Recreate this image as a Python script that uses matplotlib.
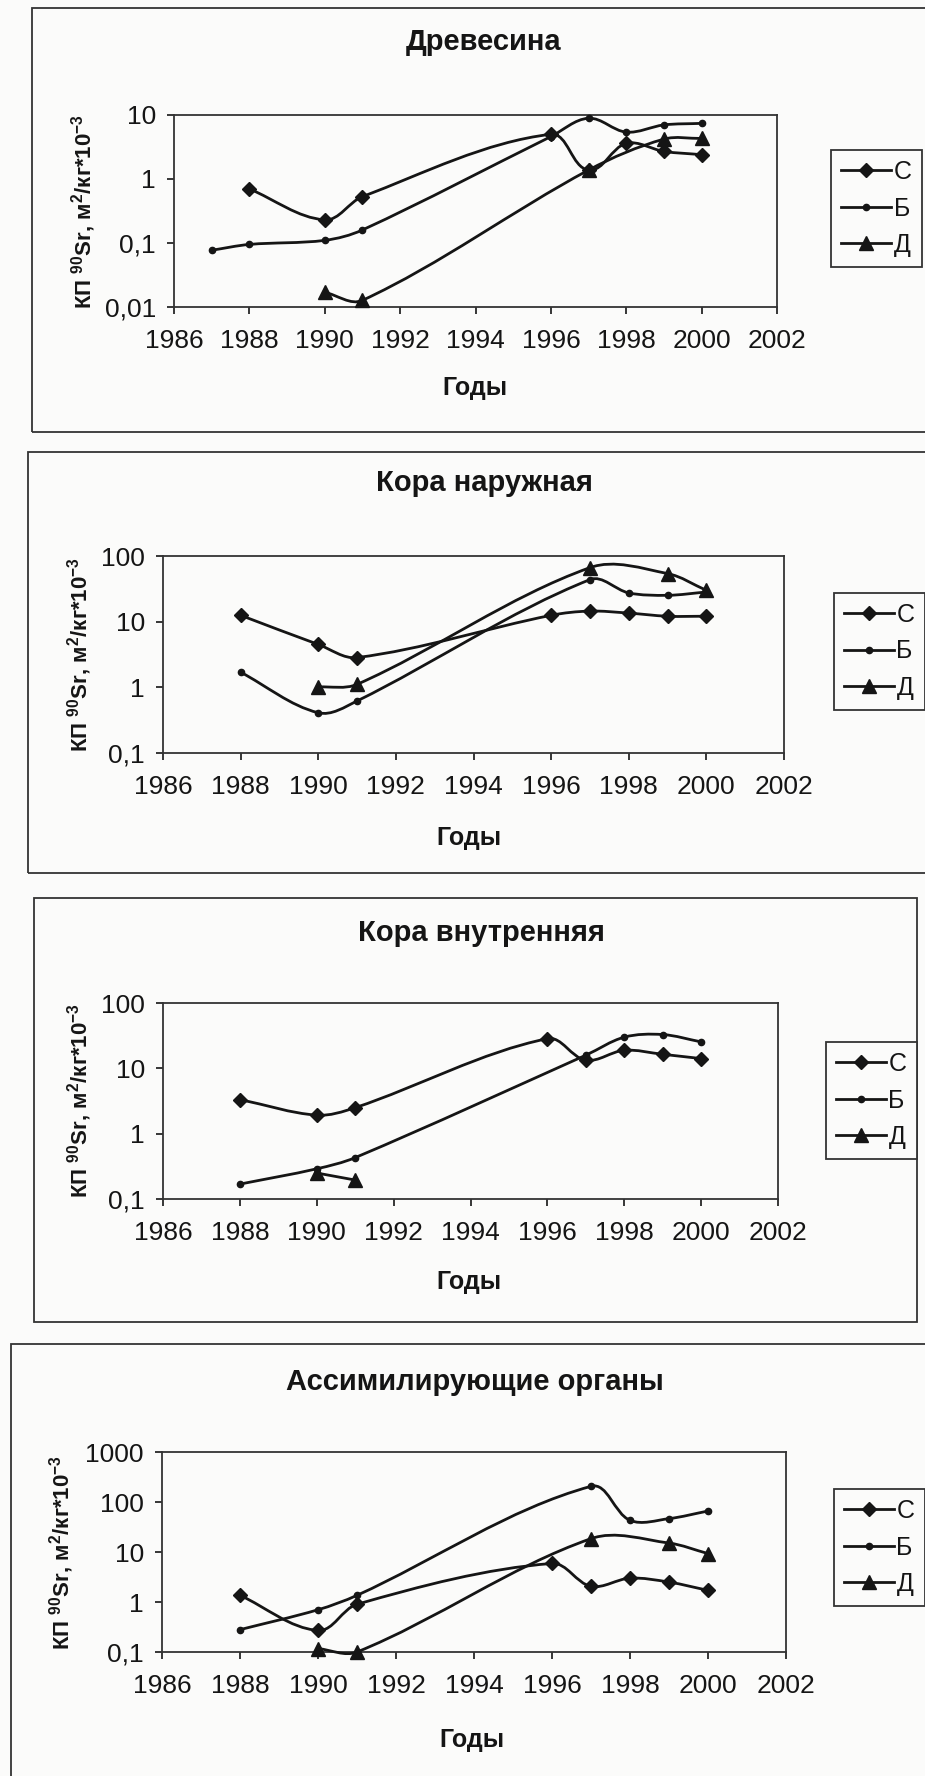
import numpy as np
import matplotlib
matplotlib.use('Agg')
import matplotlib.pyplot as plt
from matplotlib.path import Path
from matplotlib.patches import PathPatch, Rectangle
from matplotlib.lines import Line2D

plt.rcParams['font.family'] = ['Liberation Sans', 'DejaVu Sans']
plt.rcParams['mathtext.fontset'] = 'custom'
plt.rcParams['mathtext.rm'] = 'Liberation Sans:bold'
plt.rcParams['mathtext.bf'] = 'Liberation Sans:bold'
plt.rcParams['mathtext.default'] = 'bf'

# --- данные ---
titles = ['Древесина', 'Кора наружная', 'Кора внутренняя', 'Ассимилирующие органы']
legend_labels = ['С', 'Б', 'Д']
x_ticks = [1986, 1988, 1990, 1992, 1994, 1996, 1998, 2000, 2002]

# Древесина
wood_c_years = [1988, 1990, 1991, 1996, 1997, 1998, 1999, 2000]
wood_c = [0.70, 0.23, 0.53, 5.0, 1.38, 3.6, 2.7, 2.4]
wood_b_years = [1987, 1988, 1990, 1991, 1996, 1997, 1998, 1999, 2000]
wood_b = [0.077, 0.095, 0.11, 0.16, 4.6, 8.9, 5.4, 7.0, 7.4]
wood_d_years = [1990, 1991, 1997, 1999, 2000]
wood_d = [0.017, 0.0127, 1.38, 4.2, 4.3]

# Кора наружная
outer_c_years = [1988, 1990, 1991, 1996, 1997, 1998, 1999, 2000]
outer_c = [12.5, 4.5, 2.84, 12.5, 14.5, 13.5, 12.1, 12.1]
outer_b_years = [1988, 1990, 1991, 1997, 1998, 1999, 2000]
outer_b = [1.7, 0.41, 0.62, 43.7, 27.4, 25.2, 28.3]
outer_d_years = [1990, 1991, 1997, 1999, 2000]
outer_d = [1.01, 1.11, 66.5, 54, 30]

# Кора внутренняя
inner_c_years = [1988, 1990, 1991, 1996, 1997, 1998, 1999, 2000]
inner_c = [3.33, 1.92, 2.5, 28.5, 13.3, 18.9, 16.4, 14.1]
inner_b_years = [1988, 1990, 1991, 1997, 1998, 1999, 2000]
inner_b = [0.169, 0.29, 0.43, 15.9, 30, 32.9, 25.4]
inner_d_years = [1990, 1991]
inner_d = [0.25, 0.195]

# Ассимилирующие органы
leaf_c_years = [1988, 1990, 1991, 1996, 1997, 1998, 1999, 2000]
leaf_c = [1.36, 0.27, 0.9, 5.9, 2.06, 3.0, 2.5, 1.71]
leaf_b_years = [1988, 1990, 1991, 1997, 1998, 1999, 2000]
leaf_b = [0.28, 0.70, 1.36, 206, 43, 46.5, 66]
leaf_d_years = [1990, 1991, 1997, 1999, 2000]
leaf_d = [0.117, 0.1, 18.5, 15.1, 9.3]

y_ticks_wood = [0.01, 0.1, 1, 10]
y_ticks_bark = [0.1, 1, 10, 100]
y_ticks_leaf = [0.1, 1, 10, 100, 1000]

series = [
    [(wood_c_years, wood_c), (wood_b_years, wood_b), (wood_d_years, wood_d)],
    [(outer_c_years, outer_c), (outer_b_years, outer_b), (outer_d_years, outer_d)],
    [(inner_c_years, inner_c), (inner_b_years, inner_b), (inner_d_years, inner_d)],
    [(leaf_c_years, leaf_c), (leaf_b_years, leaf_b), (leaf_d_years, leaf_d)],
]
y_ticks = [y_ticks_wood, y_ticks_bark, y_ticks_bark, y_ticks_leaf]

# --- разметка в пикселях (925 x 1776) ---
W, H = 925, 1776
layout = [
    # оси (л, п, верх, низ), рамка (л, п, верх, низ), заголовок, "Годы", подпись y, легенда (л, верх)
    dict(ax=(174, 777, 115, 307), frame=(32, 990, 8, 432), title=(484, 42), xl=(475, 388), yl=(84, 211), leg=(831, 150)),
    dict(ax=(163, 784, 556, 753), frame=(28, 990, 452, 873), title=(484, 483), xl=(469, 838), yl=(80, 654), leg=(834, 593)),
    dict(ax=(163, 778, 1003, 1199), frame=(34, 917, 898, 1322), title=(481, 933), xl=(469, 1282), yl=(80, 1100), leg=(826, 1042)),
    dict(ax=(162, 786, 1452, 1652), frame=(11, 990, 1344, 1800), title=(475, 1382), xl=(472, 1740), yl=(62, 1552), leg=(834, 1489)),
]

markers = [dict(marker='D', ms=7), dict(marker='o', ms=4.5), dict(marker='^', ms=9.5)]
INK = '#151515'
LW = 2.0


def fx(px):
    return px / W


def fy(py):
    return 1 - py / H


def smooth_line(ax, xs, ys):
    # сглаженная линия как в Excel: кривые Безье, касательные считаются в пикселях
    pts = ax.transData.transform(np.column_stack([xs, ys]))
    n = len(pts)
    verts = [pts[0]]
    codes = [Path.MOVETO]
    for i in range(n - 1):
        p1, p2 = pts[i], pts[i + 1]
        d = np.hypot(*(p2 - p1)) / 3
        t1 = pts[i + 1] - pts[max(i - 1, 0)]
        t2 = pts[min(i + 2, n - 1)] - pts[i]
        c1 = p1 + t1 / np.hypot(*t1) * d
        c2 = p2 - t2 / np.hypot(*t2) * d
        verts += [c1, c2, p2]
        codes += [Path.CURVE4] * 3
    verts = ax.transData.inverted().transform(np.array(verts))
    patch = PathPatch(Path(verts, codes), fill=False, edgecolor=INK, lw=LW,
                      transform=ax.transData, clip_on=False, zorder=3)
    ax.add_patch(patch)


fig = plt.figure(figsize=(W / 100, H / 100), dpi=100)
fig.patch.set_facecolor('#fbfbfa')

for k in range(4):
    L = layout[k]
    l, r, t, b = L['frame']
    fig.add_artist(Rectangle((fx(l), fy(b)), (r - l) / W, (b - t) / H, transform=fig.transFigure,
                             fill=False, edgecolor='#333333', lw=1.3))

    al, ar, at, ab = L['ax']
    ax = fig.add_axes([fx(al), fy(ab), (ar - al) / W, (ab - at) / H])
    ax.set_facecolor('none')
    ax.set_yscale('log')
    ax.set_xlim(1986, 2002)
    ax.set_ylim(y_ticks[k][0], y_ticks[k][-1])

    for (yrs, vals), mk in zip(series[k], markers):
        smooth_line(ax, yrs, vals)
        ax.plot(yrs, vals, linestyle='none', color=INK, clip_on=False, zorder=4, **mk)

    ax.set_xticks(x_ticks, [str(v) for v in x_ticks])
    ax.set_yticks(y_ticks[k], [('%g' % v).replace('.', ',') for v in y_ticks[k]])
    ax.minorticks_off()
    ax.tick_params(direction='out', length=5, width=1.2, color=INK, labelsize=19, labelcolor=INK)
    ax.tick_params(axis='x', pad=11)
    ax.tick_params(axis='y', pad=8)
    for s in ax.spines.values():
        s.set_color('#333333')
        s.set_linewidth(1.3)

    fig.text(fx(L['title'][0]), fy(L['title'][1]), titles[k], ha='center', va='center',
             fontsize=21, fontweight='bold', color=INK)
    fig.text(fx(L['xl'][0]), fy(L['xl'][1]), 'Годы', ha='center', va='center',
             fontsize=18, fontweight='bold', color=INK)
    fig.text(fx(L['yl'][0]), fy(L['yl'][1]), 'КП $^{90}$Sr, м$^{2}$/кг*10$^{-3}$', ha='center', va='center',
             rotation=90, fontsize=16, fontweight='bold', color=INK)

    handles = [Line2D([], [], color=INK, lw=LW, **mk) for mk in markers]
    leg = fig.legend(handles, legend_labels, loc='upper left', bbox_to_anchor=(fx(L['leg'][0]), fy(L['leg'][1])),
                     bbox_transform=fig.transFigure, borderaxespad=0, fontsize=18, handlelength=2.0,
                     handletextpad=0.1, labelspacing=0.5, borderpad=0.4, fancybox=False,
                     edgecolor='#333333', framealpha=1, facecolor='#fbfbfa')
    leg.get_frame().set_linewidth(1.3)
    for txt in leg.get_texts():
        txt.set_color(INK)

fig.savefig('out.png', dpi=100, facecolor=fig.get_facecolor())
